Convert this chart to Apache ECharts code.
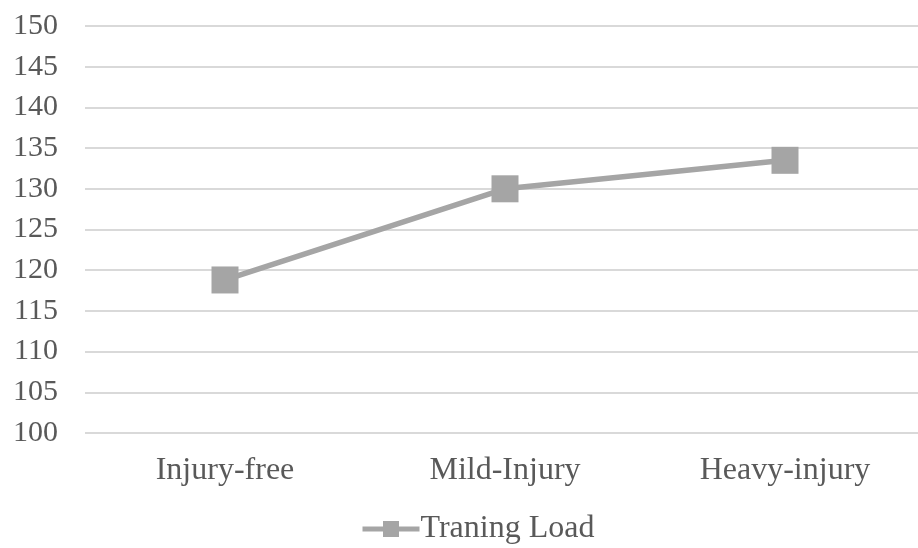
<!DOCTYPE html>
<html><head><meta charset="utf-8">
<script src="https://cdn.jsdelivr.net/npm/echarts@6/dist/echarts.min.js"></script>
<style>html,body{margin:0;padding:0;background:#fff}#c{width:918px;height:548px}</style>
</head><body><div id="c"></div>
<script>
var categories = ['Injury-free', 'Mild-Injury', 'Heavy-injury'];
var trainingLoad = [118.8, 130, 133.5];
var seriesName = 'Traning Load';

var chart = echarts.init(document.getElementById('c'));
var font = '"Liberation Serif", "Times New Roman", serif';
chart.setOption({
  animation: false,
  textStyle: { fontFamily: font },
  grid: { left: 85, top: 26, right: -7, height: 407, containLabel: false, outerBoundsMode: 'none' },
  legend: {
    data: [seriesName], top: 513, left: 360, padding: 0,
    itemWidth: 57, itemHeight: 20, itemGap: 0,
    lineStyle: { width: 5 },
    textStyle: { fontFamily: font, fontSize: 32, color: '#595959', padding: [0, 0, 0, -4] }
  },
  xAxis: {
    type: 'category', data: categories,
    axisLine: { show: false }, axisTick: { show: false },
    axisLabel: { fontFamily: font, fontSize: 32, color: '#595959', margin: 22 }
  },
  yAxis: {
    type: 'value', min: 100, max: 150, interval: 5,
    axisLine: { show: false }, axisTick: { show: false },
    axisLabel: { fontFamily: font, fontSize: 30, color: '#595959', margin: 27 },
    splitLine: { lineStyle: { color: '#d9d9d9', width: 2 } }
  },
  series: [{
    name: seriesName, type: 'line', data: trainingLoad,
    symbol: 'rect', symbolSize: 27,
    lineStyle: { color: '#a5a5a5', width: 5.5 },
    itemStyle: { color: '#a5a5a5' }
  }]
});
</script></body></html>
